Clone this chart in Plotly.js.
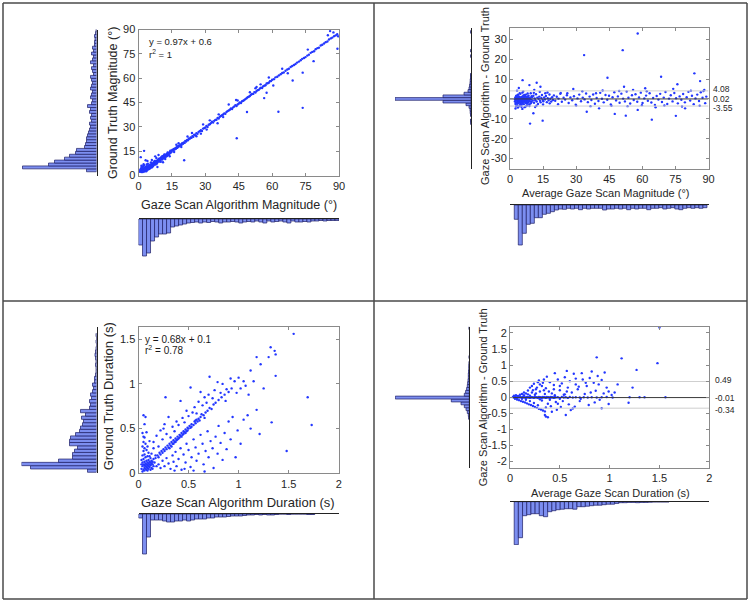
<!DOCTYPE html>
<html><head><meta charset="utf-8">
<script src="https://cdn.plot.ly/plotly-3.0.1.min.js"></script>
<style>html,body{margin:0;padding:0;background:#fff}#chart{width:750px;height:603px}</style>
</head><body><div id="chart"></div>
<script>
// ---------------- DATA ----------------
// Panel 1: magnitude scatter (algorithm x, ground truth y)
const magScatter = [
[0.6,2.3],[0.8,3.1],[1.0,2.6],[1.1,4.0],[1.2,3.3],[1.3,2.2],[1.4,5.1],[1.5,2.9],[1.6,3.8],[1.7,2.4],[1.8,4.4],[1.9,3.1],[2.0,2.6],[2.0,5.6],[2.1,3.6],[2.2,4.2],[2.3,2.8],[2.4,6.3],[2.5,3.3],[2.6,4.7],[2.7,2.5],[2.8,3.9],[2.9,5.0],[3.0,3.1],[3.1,4.3],[3.2,2.9],[3.3,5.4],[3.4,3.7],[3.5,4.6],[3.6,3.2],[3.7,6.8],[3.8,4.1],[3.9,5.2],[4.0,3.6],[4.1,4.8],[4.2,7.3],[4.3,4.4],[4.4,5.6],[4.5,3.9],[4.6,5.1],[4.7,6.2],[4.8,4.6],[4.9,5.4],[5.0,4.2],[5.1,6.6],[5.2,5.0],[5.3,5.8],[5.4,4.7],[5.5,6.1],[5.6,8.1],[5.7,5.3],[5.8,6.4],[5.9,5.6],[6.0,7.0],[6.1,5.1],
[1.0,11.3],[2.5,15.2],[3.2,9.4],
[6.2,6.6],[6.4,7.4],[6.5,5.9],[6.7,7.0],[6.8,8.2],[7.0,6.9],[7.1,7.8],[7.3,7.2],[7.4,8.6],[7.6,7.5],[7.7,6.8],[7.9,8.3],[8.0,9.1],[8.2,8.0],[8.3,7.4],[8.5,9.0],[8.6,8.5],[8.8,9.6],[8.9,8.7],[9.1,9.3],[9.2,10.4],[9.4,9.0],[9.5,9.9],[9.7,9.4],[9.8,10.6],[10.0,9.8],[10.1,10.9],[10.3,10.2],[10.4,11.3],[10.6,10.5],[10.7,9.8],[10.9,11.1],[11.0,12.0],[11.2,11.3],[11.4,10.9],[11.5,12.2],[11.7,11.6],[11.8,12.6],[12.0,12.0],[12.2,11.5],[12.3,12.8],[12.5,12.4],[12.7,13.3],[12.8,12.1],[13.0,13.0],[13.2,13.9],[13.4,13.2],[13.6,12.7],[13.8,14.1],[14.0,13.6],[14.2,14.6],[14.4,14.0],[14.6,15.1],[14.8,14.5],[15.0,15.4],
[7.5,11.8],[9.0,12.6],[20.5,9.4],[8.5,5.2],[11.0,8.2],
[15.3,15.9],[15.6,15.4],[15.9,16.3],[16.2,16.0],[16.5,16.9],[16.8,16.5],[17.1,17.4],[17.4,17.0],[17.7,18.0],[18.0,17.7],[18.3,18.5],[18.6,18.3],[19.0,19.2],[19.3,18.8],[19.6,19.9],[20.0,19.6],[20.3,20.4],[20.7,20.1],[21.0,21.3],[21.4,21.0],[21.8,21.9],[22.2,21.7],[22.6,22.8],[23.0,22.6],[23.4,23.4],[23.8,23.3],[24.2,24.3],[24.6,23.9],[25.0,25.1],[25.5,24.8],[26.0,26.0],[26.5,25.7],[27.0,26.9],[27.5,27.3],[28.0,27.9],[28.5,27.4],[29.0,28.9],[29.5,29.2],[30.0,29.6],
[19.2,17.6],[17.0,19.0],[24.0,26.2],[29.0,31.5],[30.6,28.3],
[30.5,30.6],[31.0,29.9],[31.5,31.3],[32.0,31.6],[32.5,32.3],[33.0,33.1],[33.5,32.6],[34.0,33.7],[34.5,34.3],[35.0,34.4],[35.5,35.5],[36.0,35.1],[36.5,36.2],[37.0,36.7],[37.5,37.1],[38.0,37.6],[38.5,38.3],[39.0,38.1],[39.5,39.2],[40.0,39.7],[40.5,40.1],[41.0,40.5],[41.5,41.3],[42.0,41.0],[42.5,42.0],[43.0,42.6],[43.5,43.4],[44.0,42.8],[44.5,43.8],[45.0,44.3],
[44.1,23.0],[35.5,32.2],[40.5,43.8],[43.8,46.5],[44.5,46.2],
[45.5,45.1],[46.0,44.7],[46.5,45.8],[47.0,46.1],[47.5,46.5],[48.0,47.1],[48.5,47.6],[49.0,48.3],[49.5,48.5],[50.0,49.0],[50.5,49.8],[51.0,50.2],[51.5,50.3],[52.0,51.4],[52.5,51.2],[53.0,52.1],[53.5,52.6],[54.0,52.8],[54.5,53.6],[55.0,54.1],[55.5,53.9],[56.0,55.0],[56.5,55.4],[57.0,55.6],[57.5,56.7],[58.0,56.9],[58.5,57.2],[59.0,58.1],[59.5,58.2],[60.0,59.0],
[48.7,39.1],[56.4,47.7],[52.5,53.8],[54.8,56.2],[57.5,51.0],[60.5,55.5],[58.5,60.4],
[60.8,59.4],[61.5,60.5],[62.3,60.9],[63.0,61.7],[63.8,62.4],[64.5,63.2],[65.2,63.5],[66.0,64.6],[66.8,65.3],[67.5,65.8],[68.3,66.9],[69.0,67.5],[69.8,68.1],[70.5,68.7],[71.2,69.6],[72.0,70.2],[72.8,71.0],[73.5,71.9],[74.3,72.4],[75.0,73.0],
[62.8,39.3],[73.7,41.7],[69.2,58.6],[73.7,63.4],[64.5,65.8],[67.0,63.0],
[75.8,73.9],[76.5,74.5],[77.3,75.6],[78.0,76.2],[78.8,76.6],[79.5,77.8],[80.3,78.5],[81.0,78.8],[81.8,80.1],[82.5,80.6],[83.3,81.4],[84.0,82.2],[84.8,82.6],[85.5,83.8],[86.3,84.5],[87.0,85.0],[87.8,85.9],[88.5,86.4],[89.2,87.1],[89.6,85.8],
[78.6,70.5],[89.3,78.1],[86.0,89.0],[87.5,88.2],[85.0,86.5],[76.0,77.6],
[1.5,4.6],[2.2,3.0],[2.7,4.1],[3.3,3.5],[3.8,5.8],[4.3,3.9],[4.8,5.9],[5.3,4.9],[5.8,7.2],[6.3,6.1],[6.8,6.4],[7.2,8.9],[7.8,7.8],[8.4,8.4],[8.9,9.9],[9.4,8.6],[9.9,10.2],[10.5,11.7],[11.1,10.6],[11.6,12.9],[12.1,12.3],[12.6,11.8],[13.1,14.2],[13.7,13.5],[14.3,15.3],[3.5,2.6],[4.5,4.4],[5.5,5.5],[6.6,6.0],[2.9,3.7],[1.9,2.1],[0.9,3.8],[1.3,6.0],[2.3,7.0],[4.0,9.0],[6.0,9.6],[8.0,10.8],[10.0,8.4],[12.0,10.2],[14.0,11.9],[16.0,14.5],[18.0,19.9],[22.0,24.0],[26.0,24.2],[28.0,25.8],[32.0,34.0],[36.0,37.7],[38.0,36.0],[50.0,51.3],[53.0,54.6]
];
// Panel 1 histograms
const magGtBins   = [3.2,5.0,6.8,8.6,10.4,12.2,14.0,15.8,17.6,19.4,21.2,23.0,24.8,26.6,28.4,30.2,32.0,33.8,35.6,37.4,39.2,41.0,42.8,44.6,46.4,48.2,50.0,51.8,53.6,55.4,57.2,59.0,60.8,62.6,64.4,66.2,68.0,69.8,71.6,73.4,75.2,77.0,78.8,80.6,82.4,84.2,86.0,87.8,89.6];
const magGtCounts = [10,74,48,42,32,27,21,20,12,11,10,10,9,8,7,6,7,5,6,5,7,6,9,5,4,6,5,4,6,5,4,5,6,3,4,5,3,6,4,3,5,3,4,2,2,1.5,2,1,0.5];
const magAlgBins   = [0.9,2.7,4.5,6.3,8.1,9.9,11.7,13.5,15.3,17.1,18.9,20.7,22.5,24.3,26.1,27.9,29.7,31.5,33.3,35.1,36.9,38.7,40.5,42.3,44.1,45.9,47.7,49.5,51.3,53.1,54.9,56.7,58.5,60.3,62.1,63.9,65.7,67.5,69.3,71.1,72.9,74.7,76.5,78.3,80.1,81.9,83.7,85.5,87.3,89.1];
const magAlgCounts = [26,37,34,22,18,15,15,14,8,7,6,5,4,3.5,3,4,3,3.5,2.5,3,4,3,3,2.5,3,4,3,2.5,3,2,3,4,2,3,2.5,2,3,4,2,3,3,2.5,3,2,2,1.5,2,1.5,1.5,1.5];

// Panel 2: magnitude Bland-Altman (average x, difference y)
const magDiff = [
[2.2,-1.2],[2.4,0.8],[2.5,-2.5],[2.6,0.3],[2.7,-0.6],[2.8,1.5],[2.9,-1.8],[3.0,-0.2],[3.1,0.9],[3.2,-3.1],[3.3,-0.9],[3.4,0.4],[3.5,-1.5],[3.6,2.1],[3.7,-0.4],[3.8,-2.2],[3.9,0.6],[4.0,-1.0],[4.1,1.2],[4.2,-3.6],[4.3,-0.1],[4.4,-1.7],[4.5,0.7],[4.6,-0.8],[4.7,2.6],[4.8,-2.4],[4.9,0.2],[5.0,-1.3],[5.1,1.0],[5.2,-0.5],[5.3,-2.9],[5.4,0.5],[5.5,-1.1],[5.6,3.2],[5.7,-0.3],[5.8,-1.9],[5.9,0.9],[6.0,-0.7],[6.1,1.8],[6.2,-2.6],[6.3,0.1],[6.4,-1.4],[6.5,0.6],[6.6,-4.1],[6.7,-0.2],[6.8,1.4],[6.9,-1.0],[7.0,0.3],[7.1,-2.1],[7.2,2.2],[7.3,-0.6],[7.4,-1.6],[7.5,0.8],[7.6,-0.1],[7.7,-3.3],[7.8,1.1],[7.9,-0.9],[8.0,0.4],[8.2,-1.8],[8.4,1.7],[8.6,-0.4],[8.8,-2.7],[9.0,0.6],[9.2,-1.2],[9.4,2.9],[9.6,-0.3],[9.8,-1.5],[10.0,0.9],
[2.3,-0.3],[2.6,-1.9],[3.0,1.7],[3.4,-2.0],[3.8,1.3],[4.2,-0.6],[4.6,-3.0],[5.0,0.4],[5.4,-1.9],[5.8,1.3],[6.2,-0.9],[6.6,2.0],[7.0,-1.4],[7.4,0.2],[7.8,-2.3],[8.2,0.9],[8.6,-1.1],[9.0,-0.1],[9.4,-2.2],[9.8,1.4],[2.8,-3.6],[3.6,-4.3],[4.4,2.9],[5.2,-3.9],[6.0,3.8],[7.2,-3.7],[8.0,2.8],[8.8,-3.5],[3.2,4.2],[4.0,5.5],[5.6,-5.0],[2.5,-4.8],
[10.3,-0.8],[10.6,1.6],[10.9,-1.9],[11.2,0.3],[11.5,-0.6],[11.8,2.4],[12.1,-1.3],[12.4,0.7],[12.7,-2.5],[13.0,0.1],[13.3,1.2],[13.6,-0.9],[13.9,-1.7],[14.2,0.5],[14.5,2.0],[14.8,-0.4],[15.1,-1.1],[15.5,0.8],[15.9,-0.2],[16.3,1.5],[16.7,-1.6],[17.1,0.4],[17.5,-0.7],[17.9,2.3],[18.3,0.1],[18.7,-1.3],[19.1,0.9],[19.5,-0.5],[19.9,1.8],[10.8,3.1],[12.0,-3.4],[13.5,3.6],[15.0,-2.8],[16.0,2.9],[18.0,-2.2],[11.0,4.6],[10.6,-7.2],[9.1,-12.4],[14.8,-10.9],[5.7,9.5],[12.1,8.2],[13.8,6.2],[8.8,7.0],[11.4,-4.0],[17.0,3.3],
[20.5,-0.9],[21.2,1.1],[22.0,0.2],[22.8,2.6],[23.5,-1.4],[24.3,0.6],[25.0,-0.3],[25.8,1.9],[26.6,-2.0],[27.4,0.8],[28.2,-0.6],[28.7,5.0],[29.0,1.4],[29.8,-2.9],[30.6,0.3],[31.4,2.2],[32.2,-1.1],[33.0,0.7],[33.6,22.1],[33.8,-0.2],[34.5,2.8],[34.8,-6.4],[35.3,-1.6],[36.1,1.2],[36.9,-0.5],[37.7,2.3],[38.5,-2.4],[39.3,0.5],[40.1,-1.0],[40.4,-4.7],[40.9,3.1],[41.7,0.1],[42.5,-1.7],[43.3,2.0],[44.1,-0.4],[44.2,10.7],[44.9,1.6],[45.7,-2.8],[46.5,0.9],[47.3,3.4],[47.5,-7.5],[48.1,-0.7],[48.9,1.3],[49.7,-1.9],[50.5,2.7],[51.1,24.6],[51.3,0.2],[51.7,6.2],[52.1,-1.2],[52.5,-8.4],[52.9,3.8],[53.7,0.6],[54.5,-2.3],[55.3,1.9],[56.1,-0.5],[56.9,2.4],[57.7,-1.4],[57.9,33.0],[57.9,-5.5],[58.5,0.8],[59.3,3.2],[60.1,-2.0],[60.9,0.3],[61.3,5.4],[61.7,1.7],[62.5,-0.9],[63.3,2.9],[64.1,-1.8],[64.3,-10.4],[64.9,0.5],[65.7,-3.0],[66.5,1.5],[67.3,-0.3],[68.1,2.6],[68.5,11.2],[68.9,-1.5],[69.7,0.7],[70.5,3.5],[71.3,-2.5],[72.1,0.2],[72.9,1.9],[73.7,-1.2],[74.5,3.0],[75.2,-8.5],[75.3,0.4],[75.9,7.4],[76.1,-2.2],[76.9,1.3],[77.7,-0.4],[78.5,2.5],[79.3,-1.7],[79.4,-4.7],[80.1,0.9],[80.9,3.6],[81.7,-0.8],[82.5,1.6],[83.3,-2.6],[83.6,12.9],[84.1,0.3],[84.9,2.2],[85.7,-1.0],[86.2,9.0],[86.5,3.4],[87.3,0.6],[87.7,4.0],[88.1,4.5],[88.5,-2.1],[89.0,1.2],
[21.8,-2.6],[23.0,3.0],[26.0,2.9],[30.0,-3.3],[32.8,3.9],[36.5,-3.6],[39.0,2.9],[42.0,4.3],[46.0,-3.4],[49.5,4.0],[53.3,-3.6],[55.8,4.6],[59.8,-3.1],[62.0,3.9],[66.0,-4.2],[70.0,-3.3],[74.0,5.1],[78.0,-3.8],[82.0,4.2],[86.0,-3.4]
];
const magLimits = [4.08, 0.02, -3.55];
const magDiffBins   = [-12.13,-10.78,-8.08,-6.73,-5.38,-4.03,-2.68,-1.33,0.02,1.37,2.72,4.07,5.42,6.77,8.12,9.47,10.82,12.17,21.62,24.32,33.77];
const magDiffCounts = [0.3,0.5,0.5,0.8,1,2,5,28,76,28,7,3,2,1.5,1,0.8,0.5,0.5,0.3,0.3,0.3];
const magAvgBins   = [2.85,4.67,6.49,8.31,10.13,11.95,13.77,15.59,17.41,19.23,21.05,22.87,24.69,26.51,28.33,30.15,31.97,33.79,35.61,37.43,39.25,41.07,42.89,44.71,46.53,48.35,50.17,51.99,53.81,55.63,57.45,59.27,61.09,62.91,64.73,66.55,68.37,70.19,72.01,73.83,75.65,77.47,79.29,81.11,82.93,84.75,86.57,88.39];
const magAvgCounts = [14.3,40,28.3,19.3,18.3,12.7,12.7,9.3,8.3,6.7,5,4,4.3,3.3,4,3.3,4.7,3.3,4,3.3,3.3,3.3,5,4,4,3.3,4,3.3,4.7,3.3,4,3.3,3.3,4.7,3.3,3.3,2.7,4,3.3,2.7,4,4.7,3.3,2.7,3.3,2.7,3.3,2.7];

// Panel 3: duration scatter
const durScatter = [
[0.03,0.05],[0.04,0.08],[0.04,0.12],[0.05,0.04],[0.05,0.10],[0.05,0.16],[0.06,0.06],[0.06,0.09],[0.06,0.13],[0.06,0.21],[0.07,0.05],[0.07,0.08],[0.07,0.11],[0.07,0.18],[0.08,0.04],[0.08,0.07],[0.08,0.10],[0.08,0.14],[0.08,0.26],[0.09,0.06],[0.09,0.09],[0.09,0.12],[0.09,0.19],[0.10,0.05],[0.10,0.08],[0.10,0.11],[0.10,0.15],[0.10,0.23],[0.11,0.07],[0.11,0.10],[0.11,0.13],[0.12,0.09],[0.12,0.12],[0.12,0.17],[0.13,0.06],[0.13,0.11],[0.13,0.14],[0.14,0.10],[0.14,0.13],[0.15,0.08],[0.15,0.16],[0.04,0.30],[0.05,0.35],[0.06,0.28],[0.07,0.33],[0.05,0.25],[0.04,0.20],[0.03,0.15],[0.09,0.30],[0.11,0.36],[0.06,0.40],[0.04,0.45],[0.08,0.46],[0.05,0.41],[0.05,0.65],[0.07,0.63],[0.06,0.55],[0.04,0.02],[0.06,0.03],[0.09,0.03],[0.12,0.04],[0.03,0.10],[0.11,0.19],[0.13,0.22],[0.15,0.28],[0.14,0.05],[0.16,0.12],[0.17,0.20],[0.18,0.08],
[0.17,0.17],[0.19,0.20],[0.20,0.18],[0.21,0.23],[0.22,0.21],[0.23,0.25],[0.24,0.23],[0.25,0.27],[0.26,0.25],[0.27,0.29],[0.28,0.27],[0.29,0.31],[0.30,0.29],[0.31,0.33],[0.32,0.31],[0.33,0.35],[0.34,0.33],[0.35,0.37],[0.36,0.35],[0.37,0.39],[0.38,0.37],[0.39,0.41],[0.40,0.39],[0.41,0.43],[0.42,0.42],[0.43,0.45],[0.44,0.43],[0.45,0.47],[0.46,0.46],[0.47,0.49],[0.48,0.47],[0.49,0.51],[0.50,0.50],[0.51,0.53],[0.52,0.51],[0.53,0.55],[0.55,0.54],[0.56,0.58],[0.57,0.56],[0.58,0.60],[0.59,0.58],[0.60,0.61],[0.62,0.63],[0.63,0.66],[0.65,0.65],[0.67,0.68],[0.69,0.70],[0.71,0.73],[0.73,0.72],[0.75,0.77],[0.77,0.79],[0.80,0.82],[0.83,0.85],[0.86,0.88],[0.90,0.91],[0.93,0.95],
[0.15,0.35],[0.18,0.42],[0.20,0.30],[0.22,0.48],[0.24,0.38],[0.26,0.55],[0.27,0.85],[0.25,0.50],[0.28,0.44],[0.30,0.63],[0.32,0.40],[0.34,0.52],[0.36,0.47],[0.38,0.58],[0.40,0.54],[0.42,0.81],[0.44,0.62],[0.46,0.57],[0.48,0.70],[0.50,0.64],[0.52,0.96],[0.54,0.68],[0.56,0.74],[0.58,0.67],[0.60,0.80],[0.62,0.91],[0.64,0.76],[0.66,0.85],[0.68,0.79],[0.70,0.88],[0.71,1.08],[0.74,0.84],[0.76,0.93],[0.79,1.02],[0.82,0.90],[0.84,1.00],[0.87,0.81],[0.88,0.94],[0.92,1.06],[0.96,1.03],[1.00,1.07],[1.05,1.03],[1.07,0.98],[1.02,0.95],[0.98,0.90],
[0.20,0.10],[0.22,0.06],[0.24,0.14],[0.26,0.08],[0.28,0.17],[0.30,0.11],[0.32,0.05],[0.34,0.20],[0.35,0.13],[0.37,0.24],[0.38,0.08],[0.40,0.16],[0.42,0.28],[0.43,0.04],[0.45,0.21],[0.47,0.12],[0.48,0.33],[0.50,0.26],[0.52,0.07],[0.53,0.18],[0.55,0.38],[0.57,0.29],[0.58,0.14],[0.60,0.22],[0.62,0.43],[0.64,0.33],[0.65,0.10],[0.67,0.25],[0.69,0.47],[0.70,0.18],[0.72,0.36],[0.74,0.28],[0.75,0.06],[0.77,0.41],[0.79,0.22],[0.80,0.53],[0.82,0.34],[0.84,0.15],[0.86,0.45],[0.88,0.27],[0.90,0.58],[0.92,0.38],[0.94,0.63],[0.97,0.18],[0.99,0.48],[1.02,0.33],[1.05,0.60],[1.09,0.65],[1.12,0.50],[0.66,0.02],[0.55,0.03],[0.46,0.05],[0.36,0.03],
[1.15,1.03],[1.18,1.30],[1.22,1.22],[1.30,1.30],[1.32,1.41],[1.36,1.37],[1.37,1.33],[1.37,1.09],[1.55,1.56],[1.69,0.85],[1.73,0.54],[1.48,0.25],[1.33,0.57],[1.18,0.71],[1.21,0.44],[1.10,0.88],[1.25,0.95],[1.12,1.15],
[0.31,0.28],[0.33,0.30],[0.35,0.33],[0.37,0.35],[0.39,0.38],[0.41,0.40],[0.43,0.41],[0.45,0.44],[0.47,0.45],[0.49,0.48],[0.53,0.52],[0.57,0.59],[0.61,0.59],[0.66,0.62]
];
const durGtBins   = [0.030,0.067,0.104,0.141,0.178,0.215,0.252,0.289,0.326,0.363,0.400,0.437,0.474,0.511,0.548,0.585,0.622,0.659,0.696,0.733,0.770,0.807,0.844,0.881,0.918,0.955,0.992,1.029,1.066,1.103,1.140,1.177,1.214,1.251,1.288,1.325,1.362,1.399,1.436,1.473,1.510,1.547];
const durGtCounts = [9,66,75,38,24,24,22,19,27,27,26,21,17,16,14,13,15,11,16,7,6,7,5,6,4,3,4,2,2,1,0.5,0.5,1,0.5,1,1.5,1,0.5,0,0.5,0,0.5];
const durAlgBins   = [0.02,0.06,0.10,0.14,0.18,0.22,0.26,0.30,0.34,0.38,0.42,0.46,0.50,0.54,0.58,0.62,0.66,0.70,0.74,0.78,0.82,0.86,0.90,0.94,0.98,1.02,1.06,1.10,1.14,1.18,1.22,1.26,1.30,1.34,1.38,1.42,1.46,1.50,1.54,1.58,1.62,1.66,1.70,1.74];
const durAlgCounts = [4,40,23,6,6,6,7,8,8,7,7,6,7,6,5,5,5,4,4,3,3,3,2.5,2,2,2,1.5,1,1,0.5,1,0.5,1,1,0.5,0,0,0.5,0,0,0,0,0.5,0.5];

// Panel 4: duration Bland-Altman
const durDiff = [
[0.03,0.01],[0.04,-0.01],[0.05,0.02],[0.06,0.00],[0.07,-0.02],[0.08,0.01],[0.09,-0.01],[0.10,0.02],[0.11,0.00],[0.12,-0.02],[0.13,0.01],[0.14,-0.01],[0.15,0.00],[0.16,-0.02],[0.17,0.01],[0.18,-0.01],[0.19,0.00],[0.20,-0.02],[0.21,0.01],[0.22,-0.01],[0.23,0.00],[0.24,-0.02],[0.25,0.01],[0.26,-0.01],[0.27,0.00],[0.28,-0.02],[0.29,0.01],[0.30,-0.01],[0.31,0.00],[0.32,-0.02],[0.33,0.01],[0.34,-0.01],[0.35,0.00],[0.36,-0.02],[0.37,0.01],[0.38,-0.01],[0.39,0.00],[0.40,-0.02],[0.41,0.01],[0.42,-0.01],[0.43,0.00],[0.44,-0.02],[0.45,0.01],[0.46,-0.01],[0.48,0.00],[0.50,-0.02],[0.52,0.01],[0.54,-0.01],[0.56,0.00],[0.58,-0.02],[0.60,0.01],[0.63,-0.01],[0.66,0.00],[0.70,-0.01],[0.74,0.00],[0.78,-0.01],[0.82,0.00],[0.87,-0.01],[0.92,0.00],[0.97,0.01],[1.03,-0.01],
[0.04,0.05],[0.05,-0.05],[0.06,0.06],[0.07,-0.07],[0.08,0.04],[0.09,-0.09],[0.10,0.08],[0.11,-0.12],[0.12,0.10],[0.13,-0.14],[0.14,0.06],[0.15,-0.16],[0.16,0.12],[0.17,-0.19],[0.18,0.21],[0.19,-0.22],[0.20,0.30],[0.21,-0.24],[0.22,0.15],[0.23,-0.27],[0.24,0.42],[0.25,-0.30],[0.26,0.25],[0.27,-0.33],[0.28,0.47],[0.29,-0.36],[0.30,0.18],[0.31,-0.38],[0.32,0.35],[0.33,-0.41],[0.34,0.55],[0.35,-0.44],[0.35,-0.55],[0.36,-0.60],[0.38,-0.62],[0.36,0.28],[0.37,0.64],[0.38,-0.20],[0.40,0.47],[0.41,-0.28],[0.42,0.12],[0.44,0.38],[0.45,0.75],[0.46,-0.15],[0.47,-0.39],[0.48,0.55],[0.50,0.22],[0.51,-0.30],[0.52,0.43],[0.54,0.08],[0.55,0.62],[0.56,-0.55],[0.57,0.82],[0.58,0.30],[0.59,-0.22],[0.60,0.50],[0.62,0.15],[0.63,-0.35],[0.64,0.73],[0.65,-0.29],[0.66,0.40],[0.68,0.25],[0.70,-0.12],[0.72,0.75],[0.73,0.55],[0.75,0.10],[0.77,0.35],[0.79,-0.24],[0.80,0.60],[0.82,0.80],[0.84,0.45],[0.86,0.20],[0.87,1.24],[0.88,0.66],[0.90,-0.08],[0.92,0.54],[0.92,-0.34],[0.95,0.77],[0.97,0.30],[0.99,0.18],[0.99,-0.21],[1.02,0.07],[1.05,0.15],[1.08,0.40],[1.12,1.21],[1.19,-0.17],[1.20,0.00],[1.23,0.30],[1.27,0.85],[1.30,0.00],[1.35,0.00],[1.48,1.06],[1.50,2.17],[1.56,0.00],
[0.12,-0.05],[0.14,0.15],[0.16,-0.08],[0.18,0.09],[0.20,-0.12],[0.22,0.35],[0.24,-0.18],[0.26,0.12],[0.28,-0.25],[0.30,0.40],[0.32,-0.10],[0.34,0.22],[0.36,-0.32],[0.39,0.18],[0.42,-0.45],[0.44,0.25],[0.48,-0.20],[0.50,0.35],[0.53,-0.12],[0.57,0.18],[0.61,-0.40],[0.66,0.58],[0.69,0.33],[0.71,-0.05],[0.76,0.45],[0.81,0.15],[0.85,-0.16],[0.89,0.40],[0.94,0.12],[0.20,0.05],[0.25,0.08],[0.30,-0.06],[0.35,0.10],[0.40,-0.08],[0.45,0.06],[0.50,-0.05],[0.55,0.09],[0.23,0.22],[0.27,0.30],[0.33,0.45],[0.29,0.52]
];
const durLimits = [0.49, -0.01, -0.34];
const durDiffBins   = [-0.64,-0.55,-0.46,-0.37,-0.28,-0.19,-0.10,-0.01,0.08,0.17,0.26,0.35,0.44,0.53,0.62,0.71,0.80,0.89,0.98,1.07,1.25,2.15];
const durDiffCounts = [0.7,1,2,3.3,5,8.3,18,74,5,3.7,2.7,2,1.7,1.3,1,1,0.8,0.5,0.5,0.3,0.3,0.3];
const durAvgBins   = [0.063,0.105,0.147,0.189,0.231,0.273,0.315,0.357,0.399,0.441,0.483,0.525,0.567,0.609,0.651,0.693,0.735,0.777,0.819,0.861,0.903,0.945,0.987,1.029,1.071,1.113,1.155,1.197,1.239,1.281,1.323,1.365,1.407,1.449,1.491,1.533,1.575];
const durAvgCounts = [43,36,14,13,12,12,14,15,10,9,8,7.5,7,7,7.5,5,5,4.5,4,3.5,3.5,3,2.5,2.5,1.7,1,1,0.7,0.7,1,0.7,0.7,0.5,0.3,0.3,0.3,0.3];

// Tick labels
const magTicks = [0,15,30,45,60,75,90];
const magTickText = ['0','15','30','45','60','75','90'];
const magDiffTicks = [-30,-20,-10,0,10,20,30];
const magDiffTickText = ['-30','-20','-10','0','10','20','30'];
const durTicks = [0,0.5,1,1.5,2];
const durTickText = ['0','0.5','1','1.5','2'];
const durGtTicks = [0,0.5,1,1.5];
const durGtTickText = ['0','0.5','1','1.5'];
const durDiffTicks = [-2,-1.5,-1,-0.5,0,0.5,1,1.5,2];
const durDiffTickText = ['-2','-1.5','-1','-0.5','0','0.5','1','1.5','2'];

// ---------------- LAYOUT HELPERS ----------------
const W = 750, H = 603;
const FONT = 'Arial, "Liberation Sans", sans-serif';
const fx = p => p / W;
const fy = p => 1 - p / H;
const xdom = (a, b) => [fx(a), fx(b)];
const ydom = (top, bot) => [fy(bot), fy(top)];

const DOT = 'rgb(35,55,255)';
const BAR_FILL = 'rgb(124,142,240)';
const BAR_EDGE = 'rgb(28,28,100)';

function scatterAxis(domain, range, vals, text, anchor) {
  return {domain, range, anchor, tickmode: 'array', tickvals: vals, ticktext: text,
    ticks: 'inside', ticklen: 3, tickcolor: '#8a8a8a', showline: true, linecolor: '#8a8a8a',
    linewidth: 1, mirror: 'ticks', showgrid: false, zeroline: false,
    tickfont: {family: FONT, size: 11, color: '#262626'}};
}
function hiddenAxis(domain, range, anchor, extra) {
  return Object.assign({domain, range, anchor, showticklabels: false, ticks: '', showgrid: false,
    zeroline: false, showline: false}, extra || {});
}
function pts(arr, i) { return arr.map(p => p[i]); }

const traces = [];
const layout = {width: W, height: H, margin: {l: 0, r: 0, t: 0, b: 0}, showlegend: false,
  paper_bgcolor: '#fff', plot_bgcolor: 'rgba(0,0,0,0)', hovermode: false,
  font: {family: FONT, color: '#262626'}, annotations: [], shapes: []};

function panel(n, cfg) {
  const a = 3 * (n - 1) + 1, b = a + 1, c = a + 2;
  const k = i => (i === 1 ? '' : String(i));
  traces.push({type: 'scatter', mode: 'markers', x: pts(cfg.scatter, 0), y: pts(cfg.scatter, 1),
    xaxis: 'x' + k(a), yaxis: 'y' + k(a), marker: {size: 2.4, color: DOT, line: {width: 0}}});
  if (cfg.limits) {
    const shifts = [1.5, 0, -1.5];
    cfg.limits.forEach((v, i) => {
      traces.push({type: 'scatter', mode: 'lines', x: [cfg.xr[0], cfg.xr[1]], y: [v, v],
        xaxis: 'x' + k(a), yaxis: 'y' + k(a),
        line: {color: i === 1 ? '#3a3a3a' : '#cfcfcf', width: 1}});
      layout.annotations.push({xref: 'paper', yref: 'y' + k(a), x: fx(cfg.limX), y: v,
        xanchor: 'left', yanchor: 'middle', showarrow: false, text: v.toFixed(2),
        yshift: shifts[i], borderpad: 0,
        font: {family: FONT, size: 8.5, color: '#262626'}});
    });
  }
  traces.push({type: 'bar', orientation: 'h', y: cfg.lBins, x: cfg.lCounts, width: cfg.lW,
    xaxis: 'x' + k(b), yaxis: 'y' + k(b), marker: {color: BAR_FILL, line: {color: BAR_EDGE, width: 0.7}}});
  traces.push({type: 'bar', x: cfg.bBins, y: cfg.bCounts, width: cfg.bW,
    xaxis: 'x' + k(c), yaxis: 'y' + k(c), marker: {color: BAR_FILL, line: {color: BAR_EDGE, width: 0.7}}});

  layout['xaxis' + k(a)] = scatterAxis(xdom(cfg.sx0, cfg.sx1), cfg.xr, cfg.xt, cfg.xtt, 'y' + k(a));
  layout['yaxis' + k(a)] = scatterAxis(ydom(cfg.sy0, cfg.sy1), cfg.yr, cfg.yt, cfg.ytt, 'x' + k(a));

  layout['xaxis' + k(b)] = hiddenAxis(xdom(cfg.lx0, cfg.lx1), [cfg.lMax, 0], 'y' + k(b));
  layout['yaxis' + k(b)] = hiddenAxis(ydom(cfg.sy0, cfg.sy1), cfg.yr, 'x' + k(b),
    {side: 'right', showline: true, linecolor: '#222', linewidth: 1});

  layout['xaxis' + k(c)] = hiddenAxis(xdom(cfg.sx0, cfg.sx1), cfg.xr, 'y' + k(c),
    {side: 'top', showline: true, linecolor: '#222', linewidth: 1});
  layout['yaxis' + k(c)] = hiddenAxis(ydom(cfg.by0, cfg.by1), [cfg.bMax, 0], 'x' + k(c));

  layout.annotations.push({xref: 'paper', yref: 'paper', x: fx(cfg.xtX), y: fy(cfg.xtY),
    xanchor: 'center', yanchor: 'middle', showarrow: false, text: cfg.xTitle,
    font: {family: FONT, size: cfg.tSize, color: '#262626'}});
  layout.annotations.push({xref: 'paper', yref: 'paper', x: fx(cfg.ytX), y: fy(cfg.ytY),
    xanchor: 'center', yanchor: 'middle', showarrow: false, textangle: -90, text: cfg.yTitle,
    font: {family: FONT, size: cfg.tSize, color: '#262626'}});
  (cfg.eq || []).forEach(e => layout.annotations.push({xref: 'paper', yref: 'paper',
    x: fx(e[1]), y: fy(e[2]), xanchor: 'left', yanchor: 'middle', showarrow: false, text: e[0],
    font: {family: FONT, size: e[3], color: '#1a1a1a'}}));
}

panel(1, {scatter: magScatter, xr: [0, 90], yr: [0, 90], xt: magTicks, xtt: magTickText, yt: magTicks, ytt: magTickText,
  sx0: 138.5, sx1: 339, sy0: 29.5, sy1: 175.5,
  lBins: magGtBins, lCounts: magGtCounts, lW: 1.8, lx0: 22, lx1: 96.5, lMax: 74.5,
  bBins: magAlgBins, bCounts: magAlgCounts, bW: 1.8, by0: 219, by1: 257, bMax: 38,
  xTitle: 'Gaze Scan Algorithm Magnitude (°)', xtX: 238.5, xtY: 205,
  yTitle: 'Ground Truth Magnitude (°)', ytX: 113, ytY: 103, tSize: 12.5,
  eq: [['y = 0.97x + 0.6', 147, 41, 9.5], ['r<sup>2</sup> = 1', 147, 54, 9.5]]});

panel(2, {scatter: magDiff, xr: [0, 90], yr: [-35, 36], xt: magTicks, xtt: magTickText, yt: magDiffTicks, ytt: magDiffTickText,
  sx0: 510, sx1: 708.5, sy0: 27.5, sy1: 168.5,
  limits: magLimits, limX: 711.5,
  lBins: magDiffBins, lCounts: magDiffCounts, lW: 1.35, lx0: 395, lx1: 471, lMax: 76,
  bBins: magAvgBins, bCounts: magAvgCounts, bW: 1.82, by0: 205, by1: 246, bMax: 41,
  xTitle: 'Average Gaze Scan Magnitude (°)', xtX: 605, xtY: 192.7,
  yTitle: 'Gaze Scan Algorithm - Ground Truth', ytX: 485, ytY: 96, tSize: 11});

panel(3, {scatter: durScatter, xr: [0, 2], yr: [0, 1.64], xt: durTicks, xtt: durTickText, yt: durGtTicks, ytt: durGtTickText,
  sx0: 138.5, sx1: 338.7, sy0: 326.7, sy1: 473.3,
  lBins: durGtBins, lCounts: durGtCounts, lW: 0.037, lx0: 21.5, lx1: 96.5, lMax: 75,
  bBins: durAlgBins, bCounts: durAlgCounts, bW: 0.04, by0: 514, by1: 555, bMax: 41,
  xTitle: 'Gaze Scan Algorithm Duration (s)', xtX: 238, xtY: 502.7,
  yTitle: 'Ground Truth Duration (s)', ytX: 108.3, ytY: 396, tSize: 13,
  eq: [['y = 0.68x + 0.1', 143, 339, 10], ['r<sup>2</sup> = 0.78', 143, 350, 10]]});

panel(4, {scatter: durDiff, xr: [0, 2], yr: [-2.2, 2.2], xt: durTicks, xtt: durTickText, yt: durDiffTicks, ytt: durDiffTickText,
  sx0: 510, sx1: 709.3, sy0: 326.5, sy1: 468,
  limits: durLimits, limX: 714,
  lBins: durDiffBins, lCounts: durDiffCounts, lW: 0.09, lx0: 395, lx1: 469.3, lMax: 74.3,
  bBins: durAvgBins, bCounts: durAvgCounts, bW: 0.042, by0: 501.7, by1: 545, bMax: 43.3,
  xTitle: 'Average Gaze Scan Duration (s)', xtX: 610.8, xtY: 492.7,
  yTitle: 'Gaze Scan Algorithm - Ground Truth', ytX: 483.3, ytY: 397, tSize: 11});

// table borders
const BORDER = '#4a4a4a';
[[3, 3, 747, 3], [3, 301, 747, 301], [3, 599, 747, 599], [3, 3, 3, 599], [374, 3, 374, 599], [747, 3, 747, 599]]
  .forEach(s => layout.shapes.push({type: 'line', xref: 'paper', yref: 'paper',
    x0: fx(s[0]), y0: fy(s[1]), x1: fx(s[2]), y1: fy(s[3]), line: {color: BORDER, width: 1.5}}));

Plotly.newPlot('chart', traces, layout, {staticPlot: true, displayModeBar: false});
</script></body></html>
